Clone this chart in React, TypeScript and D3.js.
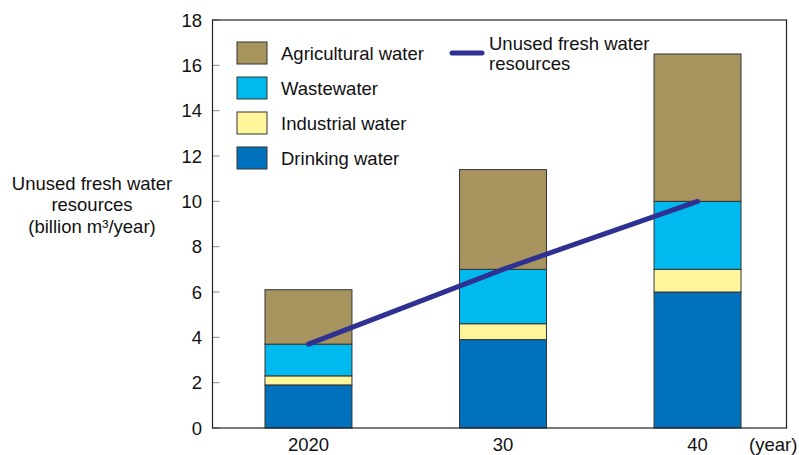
import React from "react";
import * as d3 from "d3";

const years = ["2020", "30", "40"];
const drinking = [1.9, 3.9, 6.0];
const industrial = [0.4, 0.7, 1.0];
const wastewater = [1.4, 2.4, 3.0];
const agricultural = [2.4, 4.4, 6.5];
const unusedTotal = [3.7, 7.0, 10.0];
const yTicks = [0, 2, 4, 6, 8, 10, 12, 14, 16, 18];

const seriesNames = ["Drinking water", "Industrial water", "Wastewater", "Agricultural water"];
const seriesColors = ["#0071bc", "#fff59b", "#00b9ef", "#a8945f"];
const seriesValues = [drinking, industrial, wastewater, agricultural];

const FONT = "'Liberation Sans', Arial, Helvetica, sans-serif";
const FS = 18.5;

export default function App() {
  const width = 799;
  const height = 455;
  const frame = { left: 212.5, right: 786.5, top: 20, bottom: 428 };

  const x = d3.scaleBand<string>().domain(years).range([265, 741]).paddingInner(0.553).paddingOuter(0);
  const y = d3.scaleLinear().domain([0, 18]).range([frame.bottom, frame.top]);

  const table = years.map((yr, i) => {
    const row: Record<string, number | string> = { year: yr };
    seriesNames.forEach((n, k) => (row[n] = seriesValues[k][i]));
    return row;
  });
  const stacked = d3.stack<Record<string, number | string>>().keys(seriesNames)(table as any);

  const line = d3
    .line<number>()
    .x((_, i) => (x(years[i]) as number) + x.bandwidth() / 2)
    .y((d) => y(d));

  const legendOrder = [3, 2, 1, 0];

  return (
    <svg width={width} height={height} style={{ position: "absolute", left: 0, top: 0, fontFamily: FONT }}>
      <rect width={width} height={height} fill="#fff" />
      {/* y ticks */}
      {yTicks.map((t) => (
        <g key={t}>
          <line x1={frame.left} x2={frame.left + 7} y1={y(t)} y2={y(t)} stroke="#888" strokeWidth={1} />
          <text x={202} y={y(t) + 6.5} textAnchor="end" fontSize={FS} fill="#111">
            {t}
          </text>
        </g>
      ))}
      {/* stacked bars */}
      {stacked.map((s, k) => (
        <g key={seriesNames[k]}>
          {s.map((d, i) => (
            <rect
              key={i}
              x={x(years[i])}
              width={x.bandwidth()}
              y={y(d[1])}
              height={y(d[0]) - y(d[1])}
              fill={seriesColors[k]}
              stroke="#333"
              strokeWidth={1}
            />
          ))}
        </g>
      ))}
      {/* frame */}
      <rect
        x={frame.left}
        y={frame.top}
        width={frame.right - frame.left}
        height={frame.bottom - frame.top}
        fill="none"
        stroke="#222"
        strokeWidth={1.2}
      />
      {/* total line */}
      <path d={line(unusedTotal) || ""} fill="none" stroke="#2e3192" strokeWidth={5} strokeLinecap="round" />
      {/* x labels */}
      {years.map((yr) => (
        <text
          key={yr}
          x={(x(yr) as number) + x.bandwidth() / 2}
          y={450.5}
          textAnchor="middle"
          fontSize={FS}
          fill="#111"
        >
          {yr}
        </text>
      ))}
      <text x={749} y={450.5} fontSize={FS} fill="#111">
        (year)
      </text>
      {/* y title */}
      <g fontSize={FS} fill="#111" textAnchor="middle">
        <text x={92} y={189.5}>Unused fresh water</text>
        <text x={92} y={211}>resources</text>
        <text x={92} y={232.5}>(billion m³/year)</text>
      </g>
      {/* legend */}
      {legendOrder.map((k, r) => (
        <g key={seriesNames[k]} transform={`translate(237, ${42 + r * 35})`}>
          <rect width={30} height={22} fill={seriesColors[k]} stroke="#333" strokeWidth={1} />
          <text x={44} y={17.5} fontSize={FS} fill="#111">
            {seriesNames[k]}
          </text>
        </g>
      ))}
      <line x1={452} x2={482} y1={53} y2={53} stroke="#2e3192" strokeWidth={5} strokeLinecap="round" />
      <text x={489} y={50} fontSize={FS} fill="#111">
        Unused fresh water
      </text>
      <text x={489} y={69.5} fontSize={FS} fill="#111">
        resources
      </text>
    </svg>
  );
}
